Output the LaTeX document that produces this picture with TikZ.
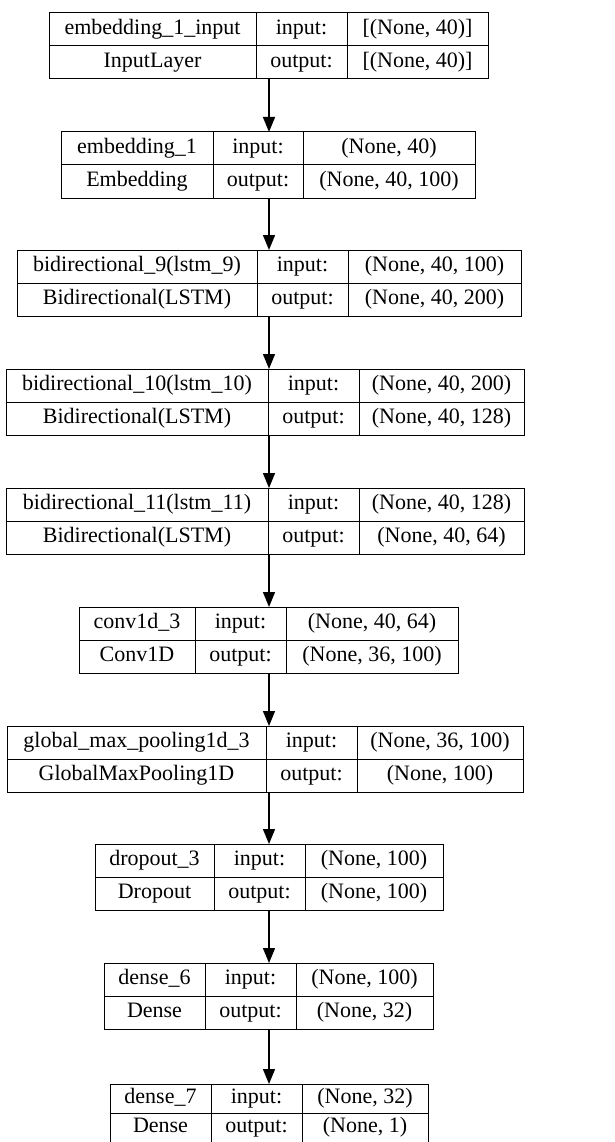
\documentclass[tikz,border=0pt]{standalone}
\usepackage{fontspec}
\setmainfont{Liberation Serif}
\usetikzlibrary{arrows.meta}

\begin{document}
\begin{tikzpicture}[x=1pt,y=-1pt,
  cell/.style={draw,line width=1pt,inner sep=0pt,outer sep=0pt,text height=15pt,text depth=5pt,
    font=\fontsize{22}{26}\selectfont},
  flow/.style={-{Triangle[width=12pt,length=15pt]},line width=1.4pt}]
\useasboundingbox (0,0) rectangle (614,1142);
\coordinate (axis) at (269,0);
% one layer per line: id/column edges/middle line/row height/texts
\foreach \id/\xa/\xb/\xc/\xd/\ym/\hr/\nm/\ty/\inp/\outp in {
  1/49/256/347/488/46/33/embedding\_1\_input/InputLayer/{[(None, 40)]}/{[(None, 40)]},
  2/61/213/303/475/165/33/embedding\_1/Embedding/{(None, 40)}/{(None, 40, 100)},
  3/17/257/348/521/283/33/bidirectional\_9(lstm\_9)/Bidirectional(LSTM)/{(None, 40, 100)}/{(None, 40, 200)},
  4/6/268/359/524/402/33/bidirectional\_10(lstm\_10)/Bidirectional(LSTM)/{(None, 40, 200)}/{(None, 40, 128)},
  5/6/268/359/524/521/33/bidirectional\_11(lstm\_11)/Bidirectional(LSTM)/{(None, 40, 128)}/{(None, 40, 64)},
  6/79/195/286/458/640/33/conv1d\_3/Conv1D/{(None, 40, 64)}/{(None, 36, 100)},
  7/7/266/357/523/759/33/global\_max\_pooling1d\_3/GlobalMaxPooling1D/{(None, 36, 100)}/{(None, 100)},
  8/95/214/305/443/877/33/dropout\_3/Dropout/{(None, 100)}/{(None, 100)},
  9/104/205/296/433/996/33/dense\_6/Dense/{(None, 100)}/{(None, 32)},
  10/110/211/302/428/1113/29/dense\_7/Dense/{(None, 32)}/{(None, 1)}}{
  \node[cell,anchor=south west,minimum width=\xb-\xa,minimum height=\hr] (\id-n) at (\xa,\ym) {\nm};
  \node[cell,anchor=north west,minimum width=\xb-\xa,minimum height=\hr] (\id-t) at (\xa,\ym) {\ty};
  \node[cell,anchor=south west,minimum width=\xc-\xb,minimum height=\hr] (\id-ik) at (\xb,\ym) {input:};
  \node[cell,anchor=north west,minimum width=\xc-\xb,minimum height=\hr] (\id-ok) at (\xb,\ym) {output:};
  \node[cell,anchor=south west,minimum width=\xd-\xc,minimum height=\hr] (\id-iv) at (\xc,\ym) {\inp};
  \node[cell,anchor=north west,minimum width=\xd-\xc,minimum height=\hr] (\id-ov) at (\xc,\ym) {\outp};
}
% arrows between the layers
\foreach \i [count=\j from 2] in {1,...,9}
  \draw[flow] (\i-t.south -| axis) -- (\j-n.north -| axis);
\end{tikzpicture}
\end{document}
